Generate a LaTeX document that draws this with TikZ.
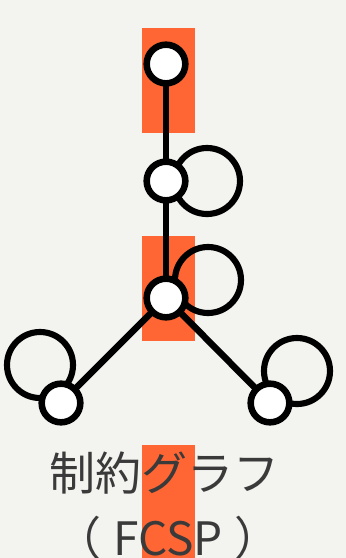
\documentclass[tikz,border=0pt]{standalone}
\usepackage{fontspec}
\newfontfamily\cjk{Noto Sans CJK JP}
\definecolor{bgc}{HTML}{F3F4EF}
\definecolor{hl}{HTML}{FF6633}
\definecolor{txt}{HTML}{3A3A3A}
\tikzset{
  vnode/.style={circle,draw=black,fill=white,line width=4.9pt,minimum size=29pt,inner sep=0pt},
  edge/.style={draw=black,line width=4.9pt},
  loopc/.style={draw=black,line width=4.6pt},
  hlbox/.style={fill=hl,draw=none},
  lbl/.style={font=\cjk\fontsize{34.5pt}{40pt}\selectfont,text=txt,inner sep=0pt,anchor=base}
}
\begin{document}
\begin{tikzpicture}[x=0.75pt,y=-0.75pt]
\fill[bgc] (0,0) rectangle (346,558);
\useasboundingbox (0,0) rectangle (346,558);
\fill[hlbox] (142,28) rectangle (195,133);
\fill[hlbox] (142,236) rectangle (195,341);
\fill[hlbox] (142,445) rectangle (195,558);
\node[lbl] (t1) at (165,490) {制約グラフ};
\node[lbl] (t2) at (168,555) {（\hspace{9pt}FCSP\hspace{9pt}）};
\coordinate (n1) at (166,64);
\coordinate (n2) at (166,181);
\coordinate (n3) at (166,298);
\coordinate (n4) at (61,403);
\coordinate (n5) at (270,403);
\draw[edge] (n1) -- (n2);
\draw[edge] (n2) -- (n3);
\draw[edge] (n3) -- (n4);
\draw[edge] (n3) -- (n5);
\draw[loopc] (207,181) circle (33);
\draw[loopc] (208,280) circle (33);
\draw[loopc] (40,365) circle (33);
\draw[loopc] (297,371) circle (33);
\node[vnode] (v1) at (n1) {};
\node[vnode] (v2) at (n2) {};
\node[vnode] (v3) at (n3) {};
\node[vnode] (v4) at (n4) {};
\node[vnode] (v5) at (n5) {};
\end{tikzpicture}
\end{document}
